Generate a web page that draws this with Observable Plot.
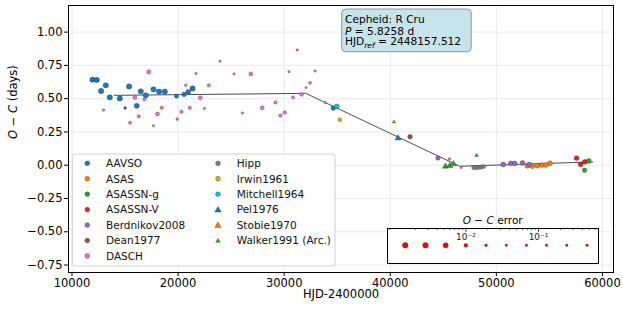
<!DOCTYPE html>
<html><head><meta charset="utf-8">
<script src="https://cdn.jsdelivr.net/npm/d3@7"></script>
<script src="https://cdn.jsdelivr.net/npm/@observablehq/plot@0.6"></script>
<style>
body{margin:0;background:white;}
#wrap{position:relative;width:623px;height:310px;font-family:"DejaVu Sans",sans-serif;background:white;}
#wrap > *{position:absolute;}
</style></head><body><div id="wrap"></div>
<script>
// ---------- data ----------
const sources = ["AAVSO","ASAS","ASASSN-g","ASASSN-V","Berdnikov2008","Dean1977","DASCH","Hipp","Irwin1961","Mitchell1964","Pel1976","Stobie1970","Walker1991 (Arc.)"];
const colors  = ["#1f77b4","#ff7f0e","#2ca02c","#d62728","#9467bd","#8c564b","#e377c2","#7f7f7f","#bcbd22","#17becf","#1f77b4","#ff7f0e","#2ca02c"];
const symbols = ["circle","circle","circle","circle","circle","circle","circle","circle","circle","circle","triangle","triangle","triangle"];

// [HJD-2400000, O-C (days), O-C error (days)]
const aavso = [[11932,0.643,0.005],[12337,0.641,0.005],[13186,0.600,0.005],[12743,0.558,0.005],[13563,0.510,0.005],[14505,0.502,0.005],[15005,0.430,0.018],[15382,0.592,0.005],[16107,0.447,0.0055],[16484,0.555,0.005],[16956,0.525,0.005],[17681,0.570,0.005],[18209,0.553,0.005],[18746,0.553,0.005],[19849,0.519,0.0085],[20565,0.532,0.0065],[20961,0.551,0.0058],[21367,0.577,0.005],[34628,0.429,0.006]];
const asas = [[52931,-0.005,0.006],[53402,-0.008,0.006],[53873,-0.004,0.006],[54297,0.002,0.006],[54674,0.002,0.006],[55052,0.015,0.006]];
const asassnG = [[58708,0.032,0.006],[58312,-0.038,0.007]];
const asassnV = [[57558,0.053,0.006],[57935,0.006,0.006],[58331,0.025,0.006]];
const berdnikov2008 = [[44496,0.054,0.007],[50650,0.005,0.006],[51357,0.014,0.006],[51734,0.013,0.006],[52460,0.017,0.006],[53101,0.005,0.006]];
const dean1977 = [[41866,0.214,0.0065]];
const dasch = [[12969,0.415,0.02],[15476,0.320,0.015],[15919,0.508,0.009],[16296,0.367,0.012],[16833,0.495,0.012],[17238,0.701,0.008],[17681,0.297,0.025],[18058,0.385,0.009],[18464,0.432,0.012],[19924,0.346,0.02],[20320,0.401,0.012],[20726,0.600,0.02],[21103,0.431,0.012],[21687,0.689,0.025],[22092,0.506,0.009],[22488,0.427,0.025],[22893,0.600,0.012],[23959,0.782,0.025],[25278,0.686,0.025],[26070,0.392,0.025],[26852,0.686,0.009],[27936,0.431,0.009],[29180,0.472,0.012],[29651,0.374,0.012],[30056,0.396,0.012],[30452,0.703,0.025],[30839,0.510,0.015],[31235,0.866,0.025],[31640,0.532,0.01],[32064,0.583,0.025],[32441,0.619,0.015],[32912,0.708,0.025],[33873,0.470,0.025],[45580,0.047,0.02],[46692,-0.017,0.025]];
const hipp = [[47870,-0.019,0.008],[48181,-0.019,0.008],[48501,-0.015,0.008],[48784,-0.010,0.008]];
const irwin1961 = [[35240,0.342,0.01]];
const mitchell1964 = [[34958,0.442,0.006]];
const pel1976 = [[40735,0.203,0.007]];
const stobie1970 = [[40348,0.325,0.02]];
const walker1991 = [[45202,-0.009,0.007],[45608,-0.004,0.007],[45956,0.009,0.007],[48134,0.074,0.02]];

// piecewise-linear O-C fit
const fitHJD = [13968, 32036, 46550, 59085];
const fitOC  = [0.525, 0.540, -0.008, 0.025];

// ticks and labels
const xTicks = [10000, 20000, 30000, 40000, 50000, 60000];
const yTicks = [-0.75, -0.5, -0.25, 0, 0.25, 0.5, 0.75, 1.0];
const xLabel = "HJD-2400000";
const yLabel = "O − C (days)";
const errTitle = "O − C error";
const errSamples = [0.00146, 0.00277, 0.00525, 0.00996, 0.0189, 0.0359, 0.0681, 0.129, 0.245, 0.465];
const errMajorTicks = [0.01, 0.1];
const errMinorTicks = [0.0009,0.002,0.003,0.004,0.005,0.006,0.007,0.008,0.009,0.02,0.03,0.04,0.05,0.06,0.07,0.08,0.09,0.2,0.3,0.4,0.5,0.6];
const infoLines = ["Cepheid: R Cru", "P = 5.8258 d", "HJDref = 2448157.512"];

// ---------- build ----------
const seriesBySource = [aavso, asas, asassnG, asassnV, berdnikov2008, dean1977, dasch, hipp, irwin1961, mitchell1964, pel1976, stobie1970, walker1991];
const rows = [];
sources.forEach((s, i) => seriesBySource[i].forEach(([hjd, oc, err]) => rows.push({source: s, hjd, oc, err})));
const fit = fitHJD.map((x, i) => ({x, y: fitOC[i]}));

const rScale = {type: "sqrt", domain: [40, 218], range: [1.2, 2.8], clamp: true};
const FONT = "DejaVu Sans";

const main = Plot.plot({
  width: 623, height: 310,
  marginLeft: 68, marginRight: 10, marginTop: 5, marginBottom: 38,
  style: {fontFamily: FONT, fontSize: "11.5px", background: "transparent", color: "black"},
  x: {domain: [9670, 61040], label: null},
  y: {domain: [-0.806, 1.2], label: null},
  color: {domain: sources, range: colors},
  symbol: {domain: sources, range: symbols},
  r: rScale,
  marks: [
    Plot.gridX(xTicks, {stroke: "#e4e4e4", strokeOpacity: 1, strokeWidth: 0.8}),
    Plot.gridY(yTicks, {stroke: "#e4e4e4", strokeOpacity: 1, strokeWidth: 0.8}),
    Plot.line(fit, {x: "x", y: "y", stroke: "#3a3a3a", strokeWidth: 0.9}),
    Plot.dot(rows, {x: "hjd", y: "oc", r: d => 1 / d.err, fill: "source", symbol: "source",
      stroke: "#222", strokeWidth: 0.4, strokeOpacity: 0.8, sort: null}),
    Plot.frame({stroke: "black", strokeWidth: 1}),
    Plot.axisX(xTicks, {tickFormat: "d", tickSize: 4, tickPadding: 2, label: null, fontSize: 11.5}),
    Plot.axisY(yTicks, {tickFormat: ".2f", tickSize: 4, tickPadding: 2, label: null, fontSize: 11.5}),
    Plot.text([xLabel], {frameAnchor: "bottom", dy: 25.5, fontSize: 11.5, fill: "black"}),
    Plot.text([yLabel], {frameAnchor: "left", dx: -55, rotate: -90, fontSize: 11.5, fill: "black"})
  ]
});

// italic O and C in the y label
function italicizeOC(textEl) {
  const t = d3.select(textEl);
  const rest = textEl.textContent.replace(/^O − C/, "");
  t.text(null);
  t.append("tspan").attr("font-style", "italic").text("O");
  t.append("tspan").text(" − ");
  t.append("tspan").attr("font-style", "italic").text("C");
  t.append("tspan").text(rest);
}
d3.select(main).selectAll("text").filter(function() { return this.textContent === yLabel; }).each(function() { italicizeOC(this); });

const wrap = document.getElementById("wrap");
main.style.left = "0px"; main.style.top = "0px";
wrap.appendChild(main);

// ---------- error-size legend (its own small plot) ----------
const sup = {"-": "⁻", "1": "¹", "2": "²", "3": "³"};
const errPlot = Plot.plot({
  width: 213, height: 37, margin: 1,
  style: {fontFamily: FONT, fontSize: "9px", background: "transparent", color: "black"},
  x: {type: "log", domain: [0.00083, 0.67], axis: null},
  y: {domain: [0, 1], range: [1, 36], axis: null},
  r: rScale,
  marks: [
    Plot.frame({fill: "white", stroke: "black", strokeWidth: 1}),
    Plot.ruleX(errMinorTicks, {y1: 0, y2: 0.06, stroke: "black", strokeWidth: 0.6}),
    Plot.ruleX(errMajorTicks, {y1: 0, y2: 0.11, stroke: "black", strokeWidth: 0.8}),
    Plot.text(errMajorTicks, {x: d => d, y: 0.25, fontSize: 9, fill: "#222",
      text: d => "10" + String(Math.round(Math.log10(d))).split("").map(c => sup[c]).join("")}),
    Plot.dot(errSamples, {x: d => d, y: 0.48, r: d => 1 / d, fill: "red", stroke: "#333", strokeWidth: 0.4, sort: null})
  ]
});
errPlot.style.left = "386.3px"; errPlot.style.top = "226.7px";
wrap.appendChild(errPlot);

// ---------- overlay: category legend, info box, error-legend title ----------
const ov = d3.create("svg").attr("width", 623).attr("height", 310)
  .style("left", "0px").style("top", "0px").style("font-family", FONT).style("overflow", "visible");

// info box
const info = ov.append("g");
info.append("rect").attr("x", 341.7).attr("y", 9).attr("width", 129.5).attr("height", 42.7).attr("rx", 4)
  .attr("fill", "#c7e4ed").attr("stroke", "#87989d").attr("stroke-width", 1);
const fsI = 10.6;
info.append("text").attr("x", 345).attr("y", 23.2).attr("font-size", fsI).text(infoLines[0]);
const l2 = info.append("text").attr("x", 345).attr("y", 34.6).attr("font-size", fsI);
l2.append("tspan").attr("font-style", "italic").text(infoLines[1].slice(0, 1));
l2.append("tspan").text(infoLines[1].slice(1));
const l3 = info.append("text").attr("x", 345).attr("y", 45.4).attr("font-size", fsI);
l3.append("tspan").text(infoLines[2].slice(0, 3));
l3.append("tspan").attr("font-style", "italic").attr("font-size", 7.6).attr("dy", 2.4).text(infoLines[2].slice(3, 6));
l3.append("tspan").attr("dy", -2.4).text(infoLines[2].slice(6));

// category legend
const lg = ov.append("g");
lg.append("rect").attr("x", 72.3).attr("y", 154).attr("width", 262.7).attr("height", 112).attr("rx", 3)
  .attr("fill", "white").attr("fill-opacity", 0.8).attr("stroke", "#d0d0d0").attr("stroke-width", 1);
sources.forEach((s, i) => {
  const col = i < 7 ? 0 : 1, row = i % 7;
  const cx = col ? 218 : 87.3, cy = 163.3 + row * 15.45;
  const isTri = symbols[i] === "triangle";
  const rr = s.startsWith("Walker") ? 1.7 : 2.4;
  const sym = d3.symbol().type(isTri ? d3.symbolTriangle : d3.symbolCircle).size(Math.PI * rr * rr);
  lg.append("path").attr("d", sym()).attr("transform", `translate(${cx},${cy + (isTri ? 0.5 : 0)})`)
    .attr("fill", colors[i]).attr("stroke", "#222").attr("stroke-width", 0.4).attr("stroke-opacity", 0.8);
  lg.append("text").attr("x", col ? 236.7 : 106).attr("y", cy + 3.8).attr("font-size", 10.5).attr("fill", "#111").text(s);
});

// error legend title
const et = ov.append("text").attr("x", 492.7).attr("y", 223.8).attr("font-size", 10.5).attr("text-anchor", "middle");
et.append("tspan").attr("font-style", "italic").text("O");
et.append("tspan").text(" − ");
et.append("tspan").attr("font-style", "italic").text("C");
et.append("tspan").text(errTitle.replace(/^O − C/, ""));

wrap.appendChild(ov.node());
</script>
</body></html>
